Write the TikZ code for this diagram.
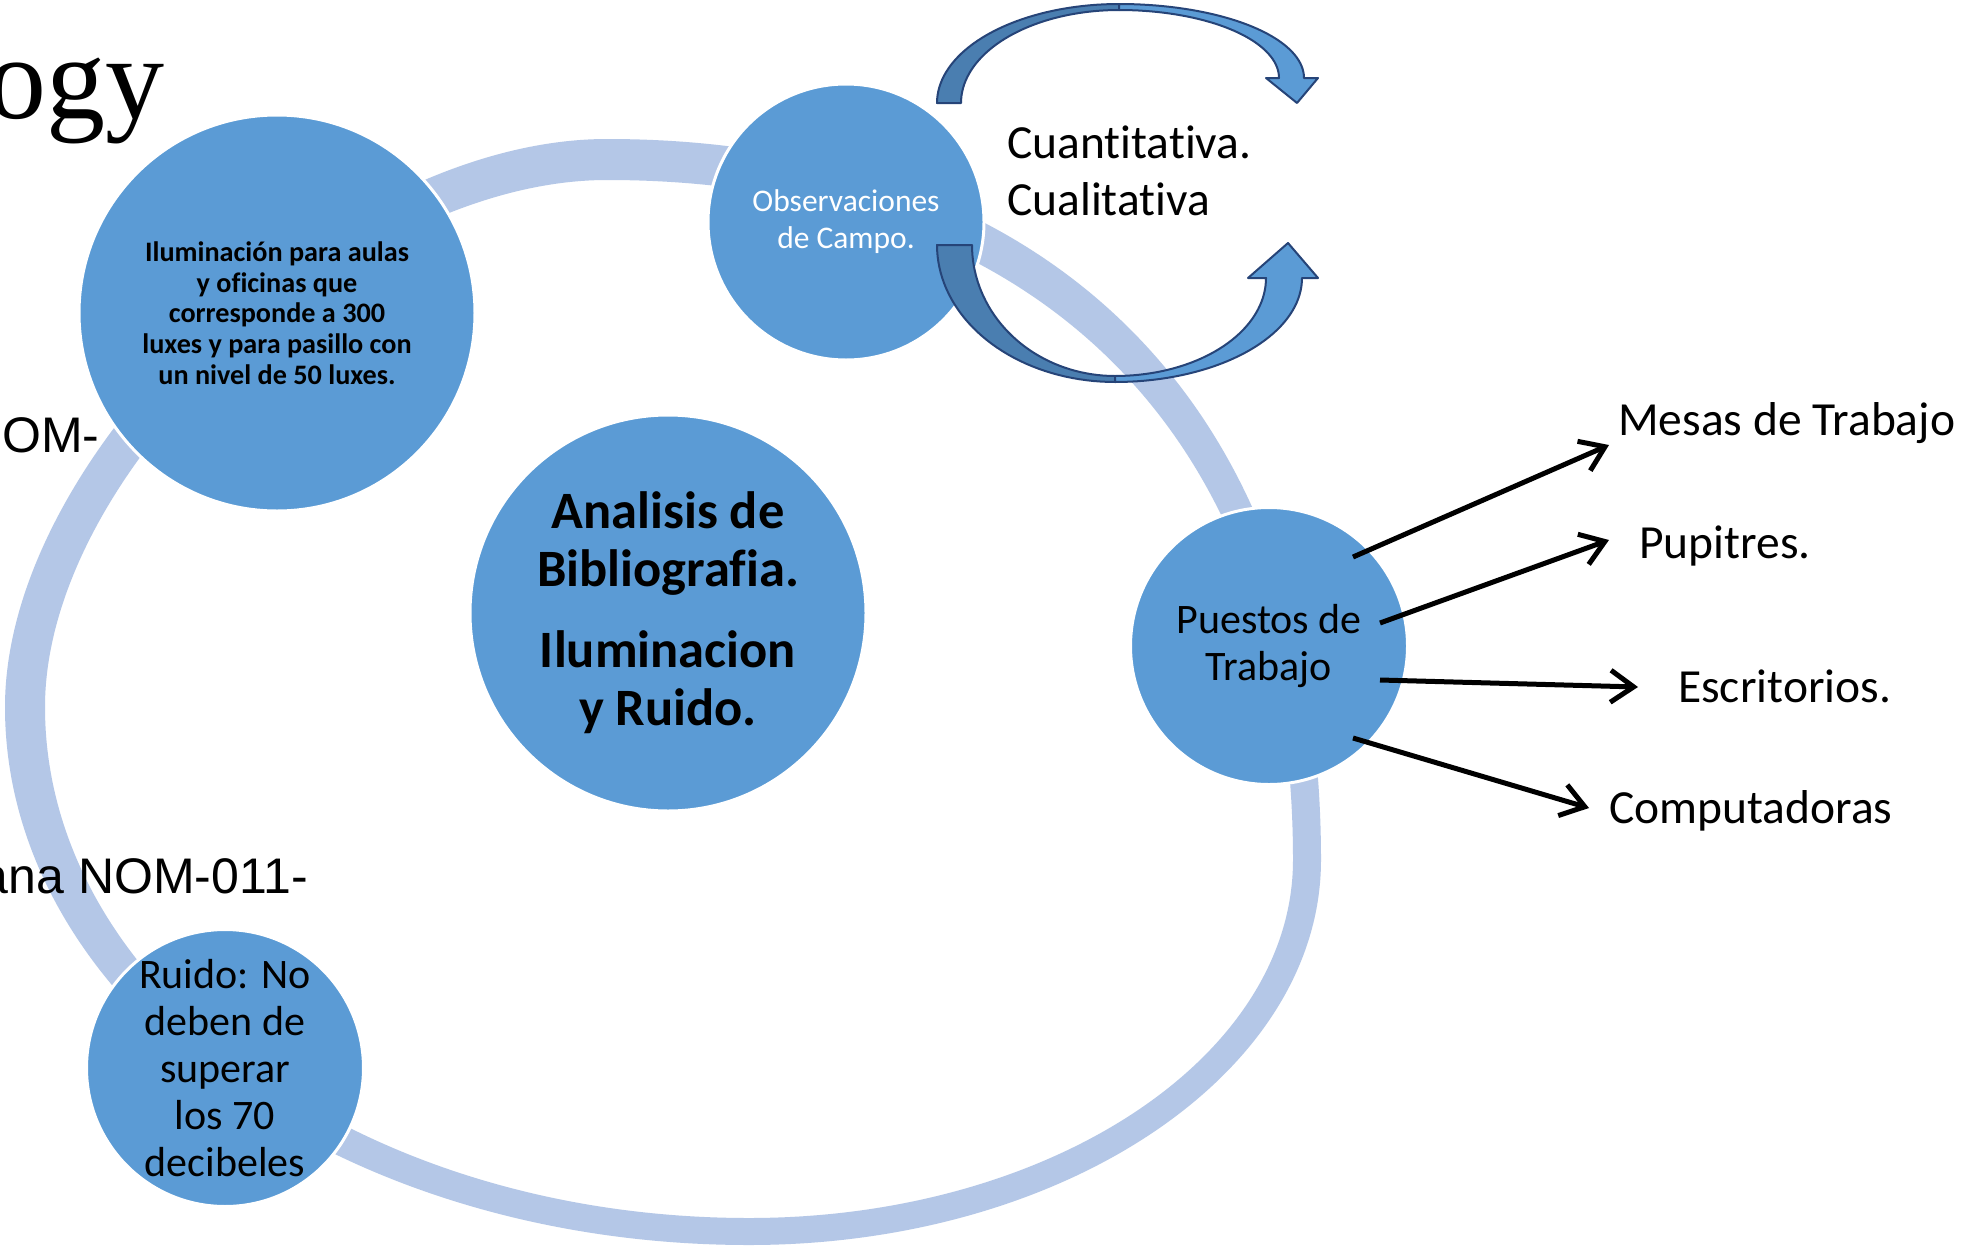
\documentclass[tikz,border=0pt]{standalone}
\usepackage{fontspec}
\setmainfont{Carlito}[Ligatures=NoCommon]
\newfontfamily\timesf{Liberation Serif}
\newfontfamily\arialf{Liberation Sans}
\usetikzlibrary{arrows.meta}
\definecolor{ringc}{HTML}{B4C7E7}
\definecolor{circc}{HTML}{5B9BD5}
\definecolor{arrdark}{HTML}{4A7EB0}
\definecolor{arrline}{HTML}{264478}
\tikzset{
  bubble/.style={circle, fill=circc, draw=white, line width=3pt, inner sep=0pt, minimum size=#1, align=center},
  lbl/.style={anchor=base west, inner sep=0pt, font=\fontsize{47.5}{57}\selectfont, align=left},
  conn/.style={line width=5pt, -{Straight Barb[length=23pt,width=32pt]}},
  darkpart/.style={fill=arrdark, draw=arrline, line width=2pt, line join=round},
  lightpart/.style={fill=circc, draw=arrline, line width=2pt, line join=round},
  sidetext/.style={inner sep=0pt, font=\arialf\fontsize{50}{50}\selectfont},
}
\begin{document}
\begin{tikzpicture}[x=1pt,y=-1pt]
\useasboundingbox (0,0) rectangle (1962,1245);
\fill[white] (0,0) rectangle (1962,1245);
% ring
\fill[ringc, even odd rule]
  (607,139) .. controls (1035,139) and (1321,391) .. (1321,860)
  .. controls (1321,1072.5) and (1064.7,1245) .. (749,1245)
  .. controls (338,1245) and (5,1004) .. (5,707)
  .. controls (5,451.4) and (336,139) .. (607,139) -- cycle
  (607,180) .. controls (1019,180) and (1293,418) .. (1293,860)
  .. controls (1293,1057.6) and (1049,1218) .. (749,1218)
  .. controls (360,1218) and (45,989) .. (45,707)
  .. controls (45,470) and (354,180) .. (607,180) -- cycle;
% side texts
\node[anchor=base east, inner sep=0pt, font=\timesf\fontsize{118}{118}\selectfont] (ogy) at (165,118) {ogy};
\node[sidetext, anchor=base west] (nom1) at (2,452) {OM-};
\node[sidetext, anchor=base east] (nom2) at (308,893) {ana NOM-011-};
% circles
\node[bubble=396pt, font=\bfseries\fontsize{28.2}{30.7}\selectfont] (ilum) at (277,313)
  {Iluminación para aulas\\y oficinas que\\corresponde a 300\\luxes y para pasillo con\\un nivel de 50 luxes.};
\node[bubble=396pt, font=\bfseries\fontsize{52.5}{58}\selectfont] (biblio) at (668,613)
  {Analisis de\\Bibliografia.\\[23pt]Iluminacion\\y Ruido.};
\node[bubble=276pt, text=white, font=\fontsize{31.5}{37}\selectfont] (obs) at (846,222)
  {Observaciones\\de Campo.};
\node[bubble=277pt, font=\fontsize{42}{47}\selectfont] (puestos) at (1269,646)
  {Puestos de\\Trabajo};
\node[bubble=276pt, font=\fontsize{42}{47}\selectfont] (ruido) at (225,1068)
  {Ruido: No\\deben de\\superar\\los 70\\decibeles};
% upper curved arrow
\path[darkpart] plot[domain=180:90,samples=40] ({1119+182*cos(\x)},{103-99*sin(\x)})
  -- plot[domain=90:180,samples=40] ({1119+158*cos(\x)},{103-93*sin(\x)}) -- cycle;
\path[lightpart] plot[domain=90:0,samples=40] ({1119+185*cos(\x)},{78-74*sin(\x)})
  -- (1318,78) -- (1297,103) -- (1266,78)
  -- plot[domain=0:90,samples=40] ({1119+160*cos(\x)},{78-68*sin(\x)}) -- cycle;
% lower curved arrow
\path[darkpart] plot[domain=180:270,samples=40] ({1115+178*cos(\x)},{245-137*sin(\x)})
  -- plot[domain=270:180,samples=40] ({1115+143*cos(\x)},{245-131*sin(\x)}) -- cycle;
\path[lightpart] plot[domain=270:360,samples=40] ({1115+187*cos(\x)},{278-104*sin(\x)})
  -- (1318,278) -- (1288,243) -- (1248,278)
  -- plot[domain=360:270,samples=40] ({1115+151*cos(\x)},{278-98*sin(\x)}) -- cycle;
\node[lbl] (cuant) at (1007,215) {Cuantitativa.\\Cualitativa};
% labels
\node[lbl] (mesas) at (1618,435) {Mesas de Trabajo};
\node[lbl] (pupitres) at (1639,558) {Pupitres.};
\node[lbl] (escrit) at (1678,702) {Escritorios.};
\node[lbl] (comput) at (1609,823) {Computadoras};
% connectors
\coordinate (a1s) at (1353,557); \coordinate (a1e) at (1609,445);
\coordinate (a2s) at (1380,623); \coordinate (a2e) at (1609,540);
\coordinate (a3s) at (1380,680); \coordinate (a3e) at (1638,687);
\coordinate (a4s) at (1353,738); \coordinate (a4e) at (1589,808);
\draw[conn] (a1s) -- (a1e);
\draw[conn] (a2s) -- (a2e);
\draw[conn] (a3s) -- (a3e);
\draw[conn] (a4s) -- (a4e);
\end{tikzpicture}
\end{document}
